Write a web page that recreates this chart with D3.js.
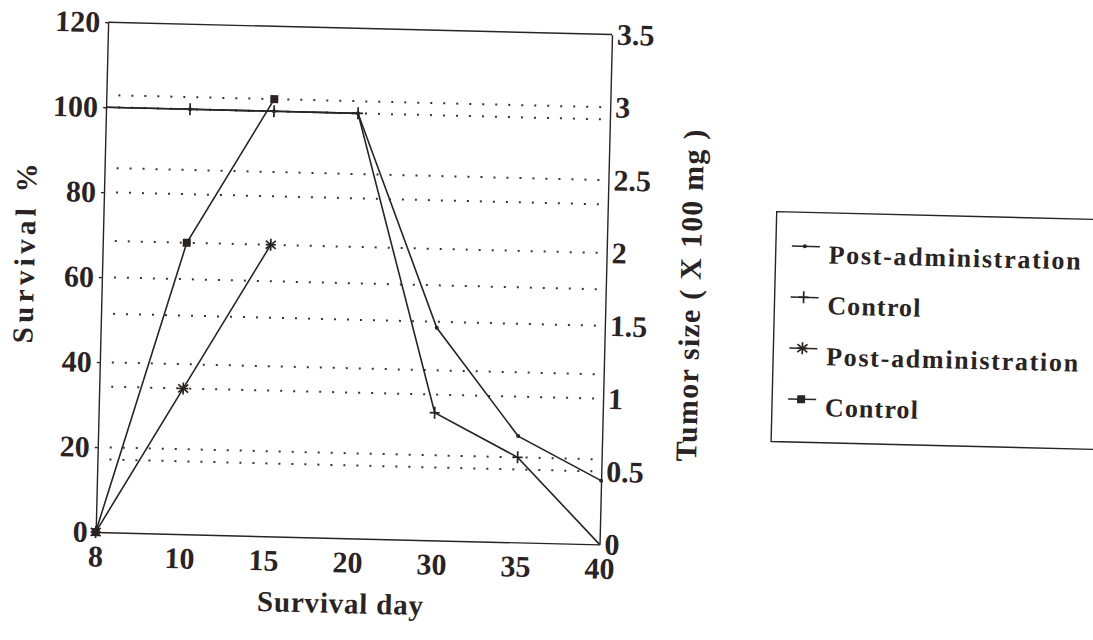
<!DOCTYPE html>
<html>
<head>
<meta charset="utf-8">
<script src="https://cdn.jsdelivr.net/npm/d3@7"></script>
<style>
  html, body { margin: 0; padding: 0; background: #ffffff; }
  svg { display: block; }
  text { font-family: "Liberation Serif", "DejaVu Serif", serif; font-weight: bold; fill: #2a2323; }
</style>
</head>
<body>
<svg id="chart" width="1093" height="640"></svg>
<script>
// ---- data ----
const days = ["8", "10", "15", "20", "30", "35", "40"];
const survivalPost = [100, 100, 100, 100, 50, 25, 15];
const survivalControl = [100, 100, 100, 100, 30, 20, 0];
const tumorDays = ["8", "10", "15"];
const tumorPost = [0, 1.0, 2.0];
const tumorControl = [0, 2.0, 3.0];
const leftTicks = [0, 20, 40, 60, 80, 100, 120];
const rightTicks = [0, 0.5, 1, 1.5, 2, 2.5, 3, 3.5];
const leftGrid = [20, 40, 60, 80, 100];
const rightGrid = [0.5, 1, 1.5, 2, 2.5, 3];
const legendLabels = ["Post-administration", "Control", "Post-administration", "Control"];
const legendMarkers = ["dot", "plus", "star", "square"];
const xTitle = "Survival day";
const yLeftTitle = "Survival %";
const yRightTitle = "Tumor size ( X 100 mg )";

// ---- layout ----
const INK = "#2a2323";
const L = 101, R = 605, T = 33, B = 543;
const svg = d3.select("#chart");
const root = svg.append("g").attr("transform", "rotate(1.4, 546, 320)");

const x = d3.scalePoint().domain(days).range([L, R]).padding(0);
const yL = d3.scaleLinear().domain([0, 120]).range([B, T]);
const yR = d3.scaleLinear().domain([0, 3.5]).range([B, T]);

// dotted grid lines
const grid = root.append("g");
function gridLine(yy) {
  grid.append("line").attr("x1", L + 12).attr("x2", R - 6)
    .attr("y1", yy).attr("y2", yy)
    .attr("stroke", "#3a3333").attr("stroke-width", 2)
    .attr("stroke-dasharray", "2,11");
}
leftGrid.forEach(v => gridLine(yL(v)));
rightGrid.forEach(v => gridLine(yR(v)));

// frame (top border)
root.append("line").attr("x1", L).attr("x2", R).attr("y1", T).attr("y2", T)
  .attr("stroke", INK).attr("stroke-width", 1.4);

// axes
const axL = root.append("g").attr("transform", `translate(${L},0)`)
  .call(d3.axisLeft(yL).tickValues(leftTicks).tickSizeInner(3).tickSizeOuter(0).tickPadding(5));
const axR = root.append("g").attr("transform", `translate(${R},0)`)
  .call(d3.axisRight(yR).tickValues(rightTicks).tickFormat(d3.format("~g"))
    .tickSizeInner(0).tickSizeOuter(0).tickPadding(5));
const axB = root.append("g").attr("transform", `translate(0,${B})`)
  .call(d3.axisBottom(x).tickSizeInner(0).tickSizeOuter(0).tickPadding(13));
[axL, axR, axB].forEach(a => {
  a.select(".domain").attr("stroke", INK).attr("stroke-width", 1.4);
  a.selectAll(".tick line").attr("stroke", INK).attr("stroke-width", 1.4);
  a.selectAll(".tick text").attr("font-size", 30).attr("fill", INK)
    .attr("font-family", "Liberation Serif, serif").attr("font-weight", "bold");
});

// marker drawing
function marker(g, type, cx, cy) {
  const s = g.append("g").attr("transform", `translate(${cx},${cy})`);
  function ln(x1, y1, x2, y2) {
    s.append("line").attr("x1", x1).attr("y1", y1).attr("x2", x2).attr("y2", y2)
      .attr("stroke", INK).attr("stroke-width", 1.7);
  }
  if (type === "plus") { ln(0, -6, 0, 6); ln(-5, 0, 5, 0); }
  else if (type === "star") { ln(0, -6, 0, 6); ln(-5, -4, 5, 4); ln(-5, 4, 5, -4); ln(-5, 0, 5, 0); }
  else if (type === "square") { s.append("rect").attr("x", -4).attr("y", -4).attr("width", 8).attr("height", 8).attr("fill", INK); }
  else if (type === "dot") { s.append("circle").attr("r", 2).attr("fill", INK); }
}

function series(xs, vals, yScale, type, skipMarkers) {
  const pts = xs.map((d, i) => [x(d), yScale(vals[i])]);
  root.append("path").attr("d", d3.line()(pts))
    .attr("fill", "none").attr("stroke", INK).attr("stroke-width", 1.6);
  const g = root.append("g");
  pts.forEach((p, i) => { if (!skipMarkers.includes(i)) marker(g, type, p[0], p[1]); });
}

series(days, survivalPost, yL, "dot", [0]);
series(days, survivalControl, yL, "plus", [0, 6]);
series(tumorDays, tumorPost, yR, "star", []);
series(tumorDays, tumorControl, yR, "square", []);

// axis titles
root.append("text").text(xTitle)
  .attr("x", 347).attr("y", 608).attr("text-anchor", "middle").attr("dominant-baseline", "central")
  .attr("font-size", 29).attr("textLength", 166).attr("lengthAdjust", "spacing");
root.append("text").text(yLeftTitle)
  .attr("transform", "translate(23,266) rotate(-90)")
  .attr("text-anchor", "middle").attr("dominant-baseline", "central")
  .attr("font-size", 29).attr("textLength", 180).attr("lengthAdjust", "spacing");
root.append("text").text(yRightTitle)
  .attr("transform", "translate(689,292) rotate(-90)")
  .attr("text-anchor", "middle").attr("dominant-baseline", "central")
  .attr("font-size", 30).attr("textLength", 332).attr("lengthAdjust", "spacing");

// legend
const lg = root.append("g");
lg.append("path").attr("d", "M1130,206 L774,206 L774,436 L1130,436")
  .attr("fill", "none").attr("stroke", INK).attr("stroke-width", 1.4);
legendLabels.forEach((lab, i) => {
  const cy = 248 + i * 51;
  lg.append("line").attr("x1", 790).attr("x2", 818).attr("y1", cy - 8).attr("y2", cy - 8)
    .attr("stroke", INK).attr("stroke-width", 1.5);
  marker(lg, legendMarkers[i], 803, cy - 8);
  lg.append("text").text(lab).attr("x", 827).attr("y", cy)
    .attr("dominant-baseline", "central").attr("font-size", 26)
    .attr("textLength", lab.length > 10 ? 252 : 93).attr("lengthAdjust", "spacing");
});
</script>
</body>
</html>
